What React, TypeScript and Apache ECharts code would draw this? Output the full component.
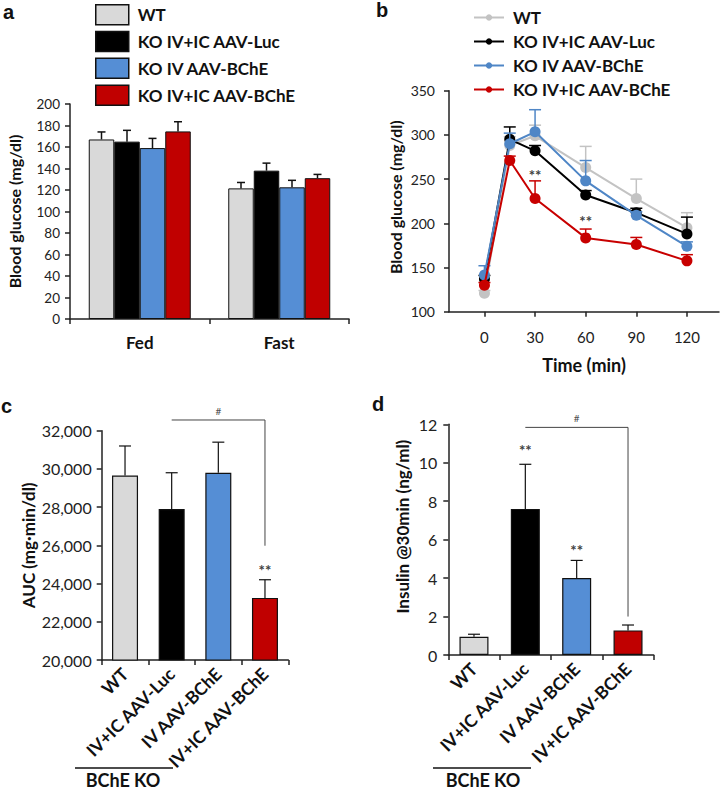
import React, { useEffect, useRef } from 'react';
import * as echarts from 'echarts';

const FONT = 'Lato, "Open Sans", sans-serif';

// Groups
const groups = ['WT', 'KO IV+IC AAV-Luc', 'KO IV AAV-BChE', 'KO IV+IC AAV-BChE'];
const barColors = ['#d9d9d9', '#000000', '#558ed5', '#c00000'];
const lineColors = ['#c3c3c3', '#000000', '#4f86c6', '#c80000'];

// Panel a
const conditions = ['Fed', 'Fast'];
const glucoseWT = [167, 121.5];
const glucoseLuc = [165, 138];
const glucoseIV = [159, 122.5];
const glucoseIVIC = [174.5, 131];
const glucoseErrWT = [7, 5.5];
const glucoseErrLuc = [10.5, 7];
const glucoseErrIV = [9, 6.5];
const glucoseErrIVIC = [9, 3.5];

// Panel b
const times = [0, 15, 30, 60, 90, 120];
const timeTicks = [0, 30, 60, 90, 120];
const gttWT = [121, 288, 299, 263, 228, 195];
const gttLuc = [137, 295, 282, 232, 212, 188];
const gttIV = [141.5, 290, 303.5, 248, 209, 174];
const gttIVIC = [130, 271, 228, 183.5, 176, 157.5];
const gttErrWT = [3, 10, 12, 24, 22, 17];
const gttErrLuc = [4, 14, 6, 5, 5, 19];
const gttErrIV = [10.5, 12, 25, 23, 4, 5];
const gttErrIVIC = [3, 5, 20, 10, 8, 7];
const gttStars = [[30, 258], [60, 205.6]];

// Panel c
const koLabels = ['WT', 'IV+IC AAV-Luc', 'IV AAV-BChE', 'IV+IC AAV-BChE'];
const aucMean = [29650, 27900, 29800, 23250];
const aucErr = [1550, 1900, 1600, 950];
const aucStars = [[3, 24860]];
const aucBracket = [1, 32560, 3, 25980];

// Panel d
const insulinMean = [0.95, 7.6, 4.0, 1.28];
const insulinErr = [0.13, 2.32, 0.92, 0.28];
const insulinStars = [[1, 10.78], [2, 5.57]];
const insulinBracket = [1, 11.84, 3, 2.0];

const aMeans = [glucoseWT, glucoseLuc, glucoseIV, glucoseIVIC];
const aErrs = [glucoseErrWT, glucoseErrLuc, glucoseErrIV, glucoseErrIVIC];
const bMeans = [gttWT, gttLuc, gttIV, gttIVIC];
const bErrs = [gttErrWT, gttErrLuc, gttErrIV, gttErrIVIC];

const AXIS_COLOR = '#222';
const axisLine = { show: true, onZero: false, lineStyle: { color: AXIS_COLOR, width: 1.5 } };
const axisTick = { show: true, inside: false, length: 5, lineStyle: { color: AXIS_COLOR, width: 1.5 } };
const nameStyle = (size: number, padding?: number[]) => ({
  fontFamily: FONT, fontWeight: 'bold' as const, fontSize: size, color: '#111', padding: padding || 0,
});

function errRender(offset: number, capW: number, color: string, lw: number) {
  return (params: any, api: any) => {
    const x = api.value(0);
    const v = api.value(1);
    const e = api.value(2);
    const p0 = api.coord([x, v]);
    const p1 = api.coord([x, v + e]);
    const cx = p0[0] + offset;
    return {
      type: 'group',
      children: [
        { type: 'line', shape: { x1: cx, y1: p0[1], x2: cx, y2: p1[1] }, style: { stroke: color, lineWidth: lw } },
        { type: 'line', shape: { x1: cx - capW / 2, y1: p1[1], x2: cx + capW / 2, y2: p1[1] }, style: { stroke: color, lineWidth: lw } },
      ],
    };
  };
}

function starRender(params: any, api: any) {
  const p = api.coord([api.value(0), api.value(1)]);
  return {
    type: 'text',
    x: p[0],
    y: p[1] - 5,
    style: { text: '**', fill: '#404040', font: `bold 15px ${FONT}`, align: 'center', verticalAlign: 'top' },
  };
}

function bracketRender(params: any, api: any) {
  const a = api.coord([api.value(0), api.value(1)]);
  const b = api.coord([api.value(2), api.value(1)]);
  const c = api.coord([api.value(2), api.value(3)]);
  return {
    type: 'group',
    children: [
      { type: 'polyline', shape: { points: [a, b, c] }, style: { stroke: '#444444', lineWidth: 1, fill: null } },
      {
        type: 'text',
        x: (a[0] + b[0]) / 2,
        y: a[1] - 4,
        style: { text: '#', fill: '#505050', font: `10px ${FONT}`, align: 'center', verticalAlign: 'bottom' },
      },
    ],
  };
}

const A_BAR_W = 25.5;

function buildOption() {
  const series: any[] = [];
  // Panel a bars
  groups.forEach((g, i) => {
    series.push({
      type: 'bar', name: g, xAxisIndex: 0, yAxisIndex: 0,
      data: aMeans[i], barWidth: A_BAR_W, barGap: '0%',
      itemStyle: { color: barColors[i], borderColor: '#111', borderWidth: 1 },
      z: 2,
    });
  });
  groups.forEach((g, i) => {
    series.push({
      type: 'custom', name: 'errA' + i, xAxisIndex: 0, yAxisIndex: 0,
      data: aMeans[i].map((v, j) => [j, v, aErrs[i][j]]),
      renderItem: errRender((i - 1.5) * A_BAR_W, 8, '#111', 1.5),
      itemStyle: { color: '#111' },
      z: 3, silent: true,
    });
  });
  // Panel b error bars
  groups.forEach((g, i) => {
    series.push({
      type: 'custom', name: 'errB' + i, xAxisIndex: 1, yAxisIndex: 1,
      data: times.map((t, j) => [t, bMeans[i][j], bErrs[i][j]]),
      renderItem: errRender(0, 12, lineColors[i], 1.5),
      itemStyle: { color: lineColors[i] },
      z: 2 + i * 2, silent: true,
    });
  });
  // Panel b lines
  groups.forEach((g, i) => {
    series.push({
      type: 'line', name: 'b|' + g, xAxisIndex: 1, yAxisIndex: 1,
      data: times.map((t, j) => [t, bMeans[i][j]]),
      symbol: 'circle', symbolSize: 11,
      lineStyle: { color: lineColors[i], width: 2 },
      itemStyle: { color: lineColors[i] },
      z: 3 + i * 2,
    });
  });
  series.push({
    type: 'custom', name: 'starsB', xAxisIndex: 1, yAxisIndex: 1,
    data: gttStars, renderItem: starRender, itemStyle: { color: '#404040' }, z: 20, silent: true,
  });
  // Panel c
  series.push({
    type: 'bar', name: 'auc', xAxisIndex: 2, yAxisIndex: 2,
    data: aucMean.map((v, i) => ({ value: v, itemStyle: { color: barColors[i] } })),
    barWidth: 26,
    itemStyle: { borderColor: '#111', borderWidth: 1.2 },
  });
  series.push({
    type: 'custom', name: 'errC', xAxisIndex: 2, yAxisIndex: 2,
    data: aucMean.map((v, i) => [i, v, aucErr[i]]),
    renderItem: errRender(0, 12, '#111', 1.2), itemStyle: { color: '#111' }, z: 3, silent: true,
  });
  series.push({
    type: 'custom', name: 'bracketC', xAxisIndex: 2, yAxisIndex: 2,
    data: [aucBracket], renderItem: bracketRender, itemStyle: { color: '#444444' }, z: 4, silent: true, clip: false,
  });
  series.push({
    type: 'custom', name: 'starsC', xAxisIndex: 2, yAxisIndex: 2,
    data: aucStars, renderItem: starRender, itemStyle: { color: '#404040' }, z: 4, silent: true,
  });
  // Panel d
  series.push({
    type: 'bar', name: 'insulin', xAxisIndex: 3, yAxisIndex: 3,
    data: insulinMean.map((v, i) => ({ value: v, itemStyle: { color: barColors[i] } })),
    barWidth: 29,
    itemStyle: { borderColor: '#111', borderWidth: 1.2 },
  });
  series.push({
    type: 'custom', name: 'errD', xAxisIndex: 3, yAxisIndex: 3,
    data: insulinMean.map((v, i) => [i, v, insulinErr[i]]),
    renderItem: errRender(0, 12, '#111', 1.2), itemStyle: { color: '#111' }, z: 3, silent: true,
  });
  series.push({
    type: 'custom', name: 'bracketD', xAxisIndex: 3, yAxisIndex: 3,
    data: [insulinBracket], renderItem: bracketRender, itemStyle: { color: '#444444' }, z: 4, silent: true, clip: false,
  });
  series.push({
    type: 'custom', name: 'starsD', xAxisIndex: 3, yAxisIndex: 3,
    data: insulinStars, renderItem: starRender, itemStyle: { color: '#404040' }, z: 4, silent: true,
  });

  const catLabel = {
    fontFamily: FONT, fontWeight: 'bold', fontSize: 17.5, color: '#111', rotate: 45, margin: 11, interval: 0,
  };

  return {
    animation: false,
    backgroundColor: '#ffffff',
    textStyle: { fontFamily: FONT },
    grid: [
      { left: 70, top: 104, width: 279, height: 215, containLabel: false, outerBoundsMode: 'none' },
      { left: 449, top: 90.7, width: 270, height: 221, containLabel: false, outerBoundsMode: 'none' },
      { left: 101.7, top: 430.7, width: 186.6, height: 229.3, containLabel: false, outerBoundsMode: 'none' },
      { left: 448.3, top: 424.3, width: 205.4, height: 230.7, containLabel: false, outerBoundsMode: 'none' },
    ],
    legend: [
      {
        orient: 'vertical', left: 95, top: 4, padding: 0, itemWidth: 33, itemHeight: 20, itemGap: 5.3,
        selectedMode: false,
        data: groups.map((g, i) => ({
          name: g, icon: 'rect',
          itemStyle: { color: barColors[i], borderColor: '#111', borderWidth: 1.5 },
        })),
        textStyle: { fontFamily: FONT, fontWeight: 'bold', fontSize: 17, color: '#111', padding: [0, 0, 0, 4] },
      },
      {
        orient: 'vertical', left: 473, top: 9, padding: 0, itemWidth: 30, itemHeight: 8, itemGap: 7,
        selectedMode: false,
        data: groups.map((g) => 'b|' + g),
        formatter: (n: string) => n.slice(2),
        textStyle: { fontFamily: FONT, fontWeight: 'bold', fontSize: 17, color: '#111', padding: [0, 0, 0, 4] },
      },
    ],
    xAxis: [
      {
        type: 'category', gridIndex: 0, data: conditions,
        axisLine, axisTick: { ...axisTick, alignWithLabel: false },
        axisLabel: { fontFamily: FONT, fontWeight: 'bold', fontSize: 17, color: '#111', margin: 15 },
        splitLine: { show: false },
      },
      {
        type: 'value', gridIndex: 1, min: -21, max: 139,
        axisLine,
        axisTick: { ...axisTick, customValues: timeTicks },
        axisLabel: { fontFamily: FONT, fontSize: 15, color: '#222', margin: 18, customValues: timeTicks },
        splitLine: { show: false },
        name: 'Time (min)', nameLocation: 'middle', nameGap: 44, nameTextStyle: nameStyle(18),
      },
      {
        type: 'category', gridIndex: 2, data: koLabels,
        axisLine, axisTick: { ...axisTick, alignWithLabel: false },
        axisLabel: catLabel, splitLine: { show: false },
      },
      {
        type: 'category', gridIndex: 3, data: koLabels,
        axisLine, axisTick: { ...axisTick, alignWithLabel: false },
        axisLabel: catLabel, splitLine: { show: false },
      },
    ],
    yAxis: [
      {
        type: 'value', gridIndex: 0, min: 0, max: 200, interval: 20,
        axisLine, axisTick,
        axisLabel: { fontFamily: FONT, fontSize: 13.5, color: '#222', margin: 10 },
        splitLine: { show: false },
        name: 'Blood glucose (mg/dl)', nameLocation: 'middle', nameGap: 48, nameTextStyle: nameStyle(16),
      },
      {
        type: 'value', gridIndex: 1, min: 100, max: 350, interval: 50,
        axisLine, axisTick,
        axisLabel: { fontFamily: FONT, fontSize: 14, color: '#222', margin: 14 },
        splitLine: { show: false },
        name: 'Blood glucose (mg/dl)', nameLocation: 'middle', nameGap: 46, nameTextStyle: nameStyle(16, [0, 0, 0, 8]),
      },
      {
        type: 'value', gridIndex: 2, min: 20000, max: 32000, interval: 2000,
        axisLine, axisTick,
        axisLabel: {
          fontFamily: FONT, fontSize: 16, color: '#222', margin: 10,
          formatter: (v: number) => v.toLocaleString('en-US'),
        },
        splitLine: { show: false },
        name: 'AUC (mg·min/dl)', nameLocation: 'middle', nameGap: 65, nameTextStyle: nameStyle(17),
      },
      {
        type: 'value', gridIndex: 3, min: 0, max: 12, interval: 2,
        axisLine, axisTick,
        axisLabel: { fontFamily: FONT, fontSize: 16, color: '#222', margin: 11 },
        splitLine: { show: false },
        name: 'Insulin @30min (ng/ml)', nameLocation: 'middle', nameGap: 37, nameTextStyle: nameStyle(17, [0, 0, 0, 26]),
      },
    ],
    graphic: [
      { type: 'text', left: 3, top: 2, style: { text: 'a', font: 'bold 20px Arial, sans-serif', fill: '#111' } },
      { type: 'text', left: 376, top: 0, style: { text: 'b', font: 'bold 20px Arial, sans-serif', fill: '#111' } },
      { type: 'text', left: 1, top: 396, style: { text: 'c', font: 'bold 20px Arial, sans-serif', fill: '#111' } },
      { type: 'text', left: 372, top: 394, style: { text: 'd', font: 'bold 20px Arial, sans-serif', fill: '#111' } },
      { type: 'line', shape: { x1: 75, y1: 768, x2: 173, y2: 768 }, style: { stroke: '#111', lineWidth: 1.5 } },
      { type: 'text', x: 123, y: 780, style: { text: 'BChE KO', font: `bold 18px ${FONT}`, fill: '#111', align: 'center', verticalAlign: 'middle' } },
      { type: 'line', shape: { x1: 433, y1: 768, x2: 531, y2: 768 }, style: { stroke: '#111', lineWidth: 1.5 } },
      { type: 'text', x: 483, y: 780, style: { text: 'BChE KO', font: `bold 18px ${FONT}`, fill: '#111', align: 'center', verticalAlign: 'middle' } },
    ],
    series,
  };
}

export default function App() {
  const ref = useRef<HTMLDivElement>(null);
  useEffect(() => {
    if (!ref.current) return;
    const chart = echarts.init(ref.current, null, { renderer: 'svg' });
    chart.setOption(buildOption() as any);
    return () => chart.dispose();
  }, []);
  return (
    <div
      ref={ref}
      style={{ position: 'absolute', left: 0, top: 0, width: 722, height: 790, background: '#fff' }}
    />
  );
}
